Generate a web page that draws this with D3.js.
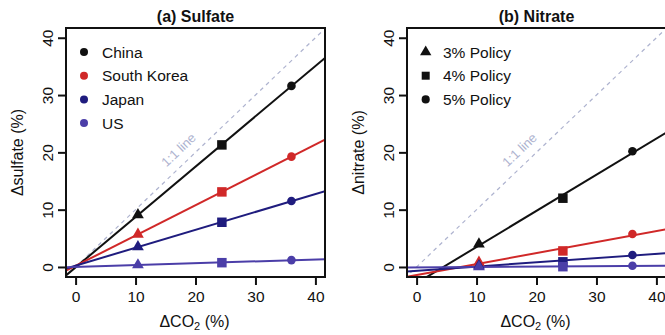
<!DOCTYPE html>
<html>
<head>
<meta charset="utf-8">
<script src="https://cdn.jsdelivr.net/npm/d3@7"></script>
<style>
  body { margin: 0; background: #fff; }
  svg { font-family: "Liberation Sans", Arial, sans-serif; }
</style>
</head>
<body>
<div id="chart"></div>
<script>
// data
var co2 = [10.4, 24.4, 36.0];               // x: delta CO2 (%) for 3%, 4%, 5% policy
var countries = ["China", "South Korea", "Japan", "US"];
var policies = ["3% Policy", "4% Policy", "5% Policy"];

// delta sulfate (%) per country, one value per policy
var sulfate = [
  [9.1, 21.3, 31.6],
  [5.7, 13.1, 19.25],
  [3.5, 7.8, 11.5],
  [0.35, 0.75, 1.2]
];
// delta nitrate (%) per country, one value per policy
var nitrate = [
  [4.0, 12.0, 20.2],
  [0.8, 2.8, 5.76],
  [0.2, 0.9, 2.1],
  [0.0, 0.05, 0.2]
];
var xTicks = [0, 10, 20, 30, 40];
var yTicks = [0, 10, 20, 30, 40];

var colors = ["#111111", "#d02828", "#1f1c7e", "#4b3ea8"];
var oneToOneColor = "#aeb3cf";

var svgWidth = 665, svgHeight = 335;
// NOTE: "top" is taken by window.top, so use plotTop / plotBottom
var plotW = 259, plotTop = 28, plotBottom = 277;

var svg = d3.select("#chart").append("svg")
  .attr("width", svgWidth)
  .attr("height", svgHeight);

var panels = [
  { key: "a", title: "(a) Sulfate", ylab: "sulfate (%)", values: sulfate, left: 66, legend: "country" },
  { key: "b", title: "(b) Nitrate", ylab: "nitrate (%)", values: nitrate, left: 407, legend: "policy" }
];

// symbol shape for each policy (triangle, square, circle)
var shapes = [d3.symbolTriangle, d3.symbolSquare, d3.symbolCircle];
var shapeSize = [60, 90, 58];

// least squares fit like abline(lm(y ~ x))
function fit(xs, ys) {
  var mx = d3.mean(xs), my = d3.mean(ys);
  var sxy = d3.sum(xs, (v, i) => (v - mx) * (ys[i] - my));
  var sxx = d3.sum(xs, v => (v - mx) * (v - mx));
  var b = sxy / sxx;
  return { b: b, a: my - b * mx };
}

panels.forEach(function(p) {
  var x = d3.scaleLinear().domain([-1.6, 41.6]).range([p.left, p.left + plotW]);
  var y = d3.scaleLinear().domain([-1.75, 41.7]).range([plotBottom, plotTop]);
  var g = svg.append("g");

  g.append("clipPath").attr("id", "clip-" + p.key)
    .append("rect")
    .attr("x", p.left).attr("y", plotTop)
    .attr("width", plotW).attr("height", plotBottom - plotTop);

  var inner = g.append("g").attr("clip-path", "url(#clip-" + p.key + ")");

  // 1:1 line
  inner.append("line")
    .attr("x1", x(-2)).attr("y1", y(-2))
    .attr("x2", x(41)).attr("y2", y(41))
    .attr("stroke", oneToOneColor)
    .attr("stroke-width", 1.2)
    .attr("stroke-dasharray", "4,4");

  var ang = Math.atan2(y(40) - y(0), x(40) - x(0)) * 180 / Math.PI;
  g.append("text")
    .attr("transform", `translate(${x(17.3)},${y(20.3)}) rotate(${ang})`)
    .attr("text-anchor", "middle")
    .attr("dominant-baseline", "middle")
    .attr("font-size", "13px")
    .attr("fill", oneToOneColor)
    .text("1:1 line");

  // fitted lines
  p.values.forEach(function(vals, i) {
    var f = fit(co2, vals);
    inner.append("line")
      .attr("x1", x(-1.6)).attr("y1", y(f.a + f.b * -1.6))
      .attr("x2", x(41.6)).attr("y2", y(f.a + f.b * 41.6))
      .attr("stroke", colors[i])
      .attr("stroke-width", 2);
  });

  // points
  p.values.forEach(function(vals, i) {
    g.selectAll(".pt" + i)
      .data(vals)
      .enter()
      .append("path")
      .attr("class", "pt" + i)
      .attr("transform", (d, j) => `translate(${x(co2[j])},${y(d)})`)
      .attr("d", (d, j) => d3.symbol().type(shapes[j]).size(shapeSize[j])())
      .attr("fill", colors[i]);
  });

  // box
  g.append("rect")
    .attr("x", p.left).attr("y", plotTop)
    .attr("width", plotW).attr("height", plotBottom - plotTop)
    .attr("fill", "none")
    .attr("stroke", "#111")
    .attr("stroke-width", 2);

  // axes
  var xAxis = g.append("g")
    .attr("transform", `translate(0,${plotBottom})`)
    .call(d3.axisBottom(x).tickValues(xTicks).tickSize(8).tickPadding(6).tickSizeOuter(0));
  xAxis.select(".domain").remove();
  xAxis.selectAll("line").attr("stroke", "#111").attr("stroke-width", 2);
  xAxis.selectAll("text").attr("font-size", "15.5px").attr("fill", "#111")
    .attr("font-family", null);

  var yAxis = g.append("g")
    .attr("transform", `translate(${p.left},0)`)
    .call(d3.axisLeft(y).tickValues(yTicks).tickSize(8).tickSizeOuter(0));
  yAxis.select(".domain").remove();
  yAxis.selectAll("line").attr("stroke", "#111").attr("stroke-width", 2);
  yAxis.selectAll("text")
    .attr("transform", "rotate(-90)")
    .attr("x", 0).attr("y", -13.5).attr("dy", 0)
    .attr("text-anchor", "middle")
    .attr("font-size", "15.5px").attr("fill", "#111")
    .attr("font-family", null);

  // titles
  g.append("text")
    .attr("x", p.left + plotW / 2).attr("y", 22)
    .attr("text-anchor", "middle")
    .attr("font-size", "16px").attr("font-weight", "bold")
    .attr("fill", "#111")
    .text(p.title);

  var xl = g.append("text")
    .attr("x", p.left + plotW / 2 - 1).attr("y", 327)
    .attr("text-anchor", "middle")
    .attr("font-size", "16px").attr("fill", "#111");
  xl.append("tspan").text("\u0394CO");
  xl.append("tspan").attr("font-size", "11px").attr("dy", 3).text("2");
  xl.append("tspan").attr("dy", -3).text(" (%)");

  g.append("text")
    .attr("transform", `translate(${p.left - 43},${(plotTop + plotBottom) / 2}) rotate(-90)`)
    .attr("text-anchor", "middle")
    .attr("font-size", "16px").attr("fill", "#111")
    .text("\u0394" + p.ylab);

  // legends
  if (p.legend === "country") {
    countries.forEach(function(c, i) {
      var ly = 52 + i * 23.7;
      g.append("circle").attr("cx", p.left + 18).attr("cy", ly).attr("r", 4).attr("fill", colors[i]);
      g.append("text").attr("x", p.left + 36).attr("y", ly + 5.5)
        .attr("font-size", "15.5px").attr("fill", "#111").text(c);
    });
  } else {
    policies.forEach(function(c, i) {
      var ly = 52 + i * 23.7;
      g.append("path")
        .attr("transform", `translate(${p.left + 18.7},${ly})`)
        .attr("d", d3.symbol().type(shapes[i]).size([56, 64, 52][i])())
        .attr("fill", "#111");
      g.append("text").attr("x", p.left + 36).attr("y", ly + 5.5)
        .attr("font-size", "15.5px").attr("fill", "#111").text(c);
    });
  }
});
</script>
</body>
</html>
